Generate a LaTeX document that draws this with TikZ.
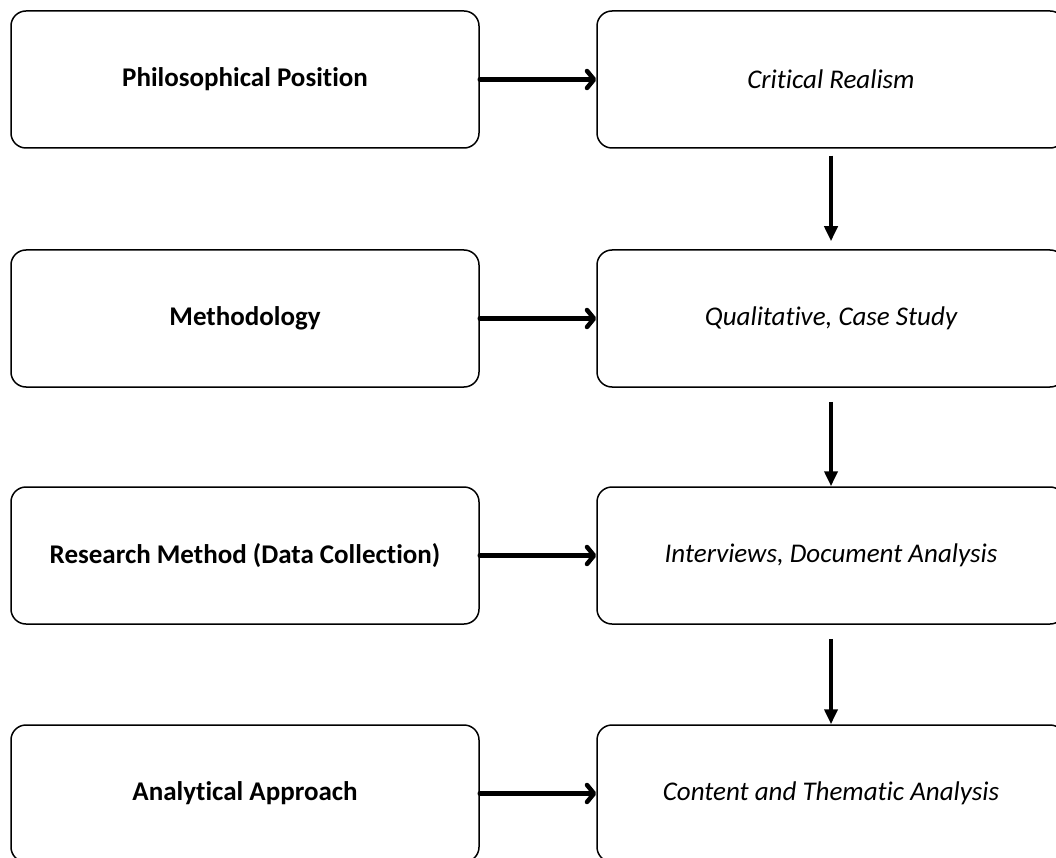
\documentclass[tikz,border=0pt]{standalone}
\usepackage{fontspec}
\setmainfont{Carlito}[Ligatures=NoCommon]
\usetikzlibrary{arrows.meta}
\begin{document}
\begin{tikzpicture}[x=1pt,y=-1pt,
  stage/.style={draw=black, line width=1.5pt, rounded corners=15pt,
    minimum width=468pt, minimum height=137pt, inner sep=0pt,
    font=\fontsize{27}{32}\selectfont\bfseries},
  detail/.style={stage, font=\fontsize{27}{32}\selectfont\itshape},
  feeds/.style={line width=4.5pt, line cap=round,
    -{Straight Barb[length=7pt,width=17pt,line cap=round,line join=round]}},
  leads/.style={line width=4pt, -{Triangle[length=15pt,width=13pt]}}]
\useasboundingbox (0,0) rectangle (1056,858);
% left column: stages
\node [stage] (philo) at (245,79.5) {Philosophical Position};
\node [stage] (method) at (245,318.5) {Methodology};
\node [stage] (collect) at (245,555.5) {Research Method (Data Collection)};
\node [stage] (analysis) at (245,793.5) {Analytical Approach};
% right column: choices
\node [detail] (realism) at (831,79.5) {Critical Realism};
\node [detail] (qual) at (831,318.5) {Qualitative, Case Study};
\node [detail] (interview) at (831,555.5) {Interviews, Document Analysis};
\node [detail] (thematic) at (831,793.5) {Content and Thematic Analysis};
% arrows
\draw [feeds] (philo.east) -- (realism.west);
\draw [feeds] (method.east) -- (qual.west);
\draw [feeds] (collect.east) -- (interview.west);
\draw [feeds] (analysis.east) -- (thematic.west);
\draw [leads, shorten <=7pt, shorten >=8pt] (realism.south) -- (qual.north);
\draw [leads, shorten <=14pt] (qual.south) -- (interview.north);
\draw [leads, shorten <=14pt] (interview.south) -- (thematic.north);
\end{tikzpicture}
\end{document}
